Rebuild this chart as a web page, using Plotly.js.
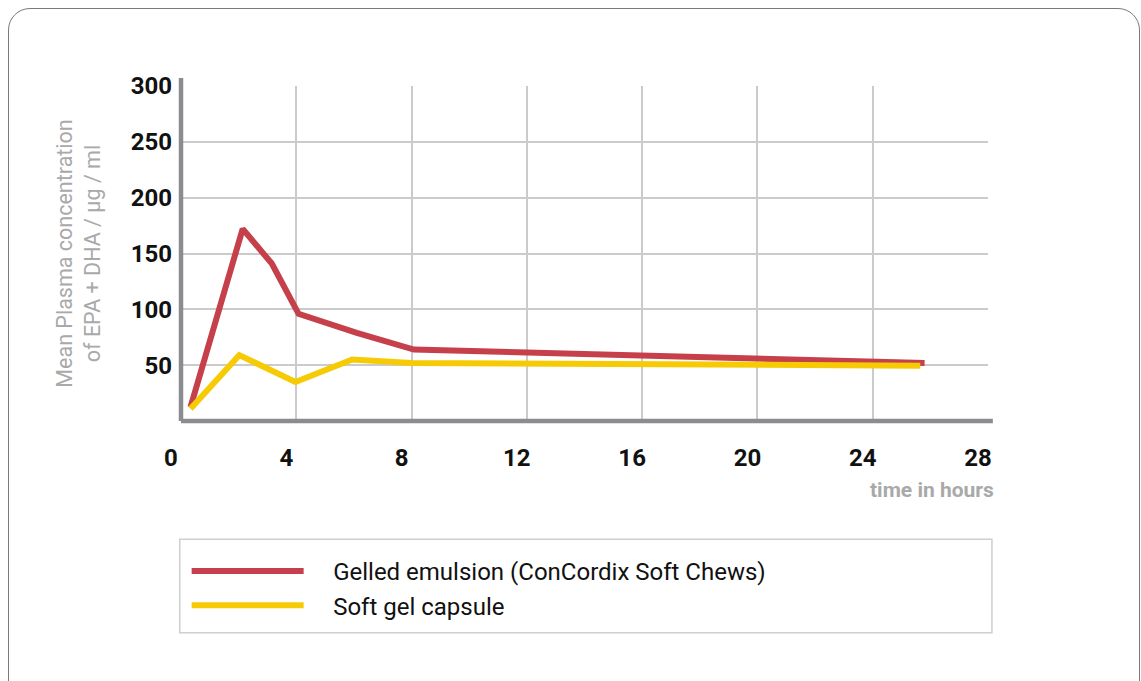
<!DOCTYPE html>
<html>
<head>
<meta charset="utf-8">
<script src="https://cdn.plot.ly/plotly-3.0.1.min.js"></script>
<style>
  html, body { margin: 0; padding: 0; background: #fff; }
  #wrap { position: relative; width: 1141px; height: 681px; overflow: hidden; }
  #frame { position: absolute; left: 8px; top: 8px; width: 1132px; height: 700px;
           border: 1.3px solid #7a7a7a; border-radius: 22px; box-sizing: border-box; pointer-events: none; }
  #chart { position: absolute; left: 0; top: 0; width: 1141px; height: 681px; }
</style>
</head>
<body>
<div id="wrap">
  <div id="chart"></div>
  <div id="frame"></div>
</div>
<script>
// Data
const seriesNames = ["Gelled emulsion (ConCordix Soft Chews)", "Soft gel capsule"];
const gelledHours = [0.33, 2.14, 3.15, 4.08, 6.1, 8.08, 25.8];
const gelledConc  = [12.5, 172, 141, 96, 79, 64, 52];
const capsuleHours = [0.33, 2.02, 3.97, 5.94, 8.0, 25.65];
const capsuleConc  = [11, 59, 35, 55, 52, 49.5];
const xTicks = [0, 4, 8, 12, 16, 20, 24, 28];
const yTicks = [50, 100, 150, 200, 250, 300];

const gap = '\u2003';
const traces = [
  { x: gelledHours, y: gelledConc, name: gap + seriesNames[0], type: 'scatter', mode: 'lines',
    line: { color: '#c5404a', width: 6 } },
  { x: capsuleHours, y: capsuleConc, name: gap + seriesNames[1], type: 'scatter', mode: 'lines',
    line: { color: '#f6cb05', width: 6 } }
];

const tickFont = { family: 'Roboto, sans-serif', size: 24, color: '#111', weight: 'bold' };

const layout = {
  width: 1141, height: 681,
  margin: { l: 181, r: 153, t: 86, b: 260 },
  paper_bgcolor: 'rgba(0,0,0,0)', plot_bgcolor: '#fff',
  showlegend: true,
  legend: {
    x: 0.007, y: -0.382, xanchor: 'left', yanchor: 'top',
    font: { family: 'Roboto, sans-serif', size: 24, color: '#111' },
    itemwidth: 112, tracegroupgap: 0, bgcolor: 'rgba(0,0,0,0)'
  },
  xaxis: {
    range: [0, 28], tickvals: xTicks, ticktext: xTicks.map(String),
    showgrid: true, gridcolor: '#cbcbcb', gridwidth: 2,
    zeroline: false, showline: false, ticks: '',
    tickfont: tickFont, ticklabelstandoff: 20, ticklabelshift: -10,
    fixedrange: true
  },
  yaxis: {
    range: [0, 300], tickvals: yTicks, ticktext: yTicks.map(String),
    showgrid: true, gridcolor: '#cbcbcb', gridwidth: 2,
    zeroline: false, showline: false, ticks: '',
    tickfont: tickFont, ticklabelstandoff: 8,
    title: { text: 'Mean Plasma concentration<br>of EPA + DHA / µg / ml',
             font: { family: 'Roboto, sans-serif', size: 21.5, color: '#a9a9a9' }, standoff: 24 },
    fixedrange: true
  },
  shapes: [
    { type: 'line', xref: 'paper', yref: 'paper', x0: 0, x1: 1.006, y0: 0, y1: 0,
      line: { color: '#8b8b90', width: 4.5 } },
    { type: 'line', xref: 'paper', yref: 'paper', x0: 0, x1: 0, y0: 0, y1: 1.024,
      line: { color: '#8b8b90', width: 4.5 } },
    { type: 'rect', xref: 'paper', yref: 'paper', x0: -0.0015, x1: 1.0049, y0: -0.353, y1: -0.632,
      line: { color: '#cfcfcf', width: 1.5 }, fillcolor: 'rgba(0,0,0,0)' }
  ],
  annotations: [
    { text: 'time in hours', xref: 'paper', yref: 'paper', x: 1.0105, y: -0.205,
      xanchor: 'right', yanchor: 'middle', showarrow: false,
      font: { family: 'Roboto, sans-serif', size: 21, color: '#a9a9a9', weight: 'bold' } }
  ]
};

Plotly.newPlot('chart', traces, layout, { displayModeBar: false, staticPlot: true });
</script>
</body>
</html>
